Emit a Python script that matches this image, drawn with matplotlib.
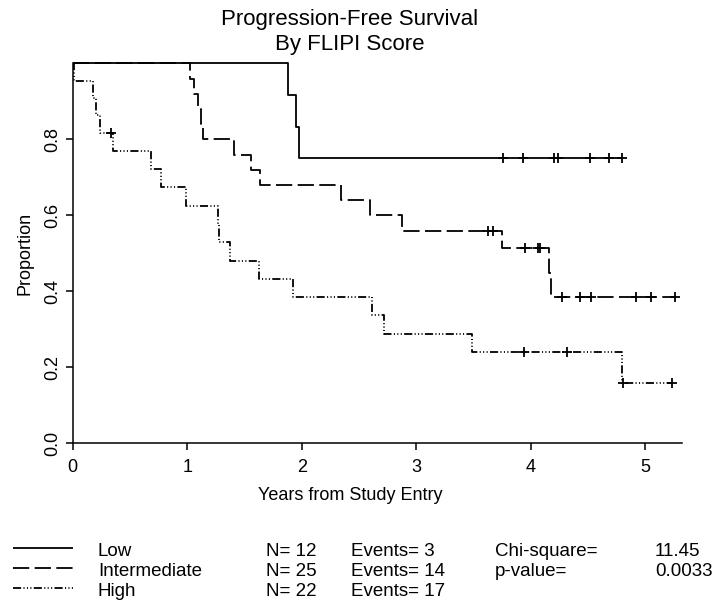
import matplotlib.pyplot as plt
from matplotlib.lines import Line2D

plt.rcParams['font.family'] = ['Liberation Sans', 'DejaVu Sans']

# Kaplan-Meier steps (years, proportion)
low_times = [0, 1.876, 1.949, 1.977]
low_surv = [1.0, 0.917, 0.833, 0.75]
low_end = 4.80
low_censor = [3.76, 3.93, 4.205, 4.24, 4.52, 4.68, 4.80]

mid_times = [0, 1.02, 1.06, 1.09, 1.12, 1.14, 1.41, 1.56, 1.635, 2.34, 2.60, 2.88, 3.75, 4.16, 4.18]
mid_surv = [1.0, 0.96, 0.92, 0.88, 0.84, 0.80, 0.76, 0.72, 0.68, 0.64, 0.60, 0.56, 0.513, 0.449, 0.385]
mid_end = 5.26
mid_censor = [3.63, 3.67, 3.95, 4.06, 4.08, 4.27, 4.43, 4.53, 4.92, 5.05, 5.26]

high_times = [0, 0.01, 0.18, 0.20, 0.24, 0.35, 0.68, 0.77, 0.99, 1.265, 1.275, 1.376,
              1.63, 1.925, 2.617, 2.72, 3.49, 4.80]
high_surv = [1.0, 0.955, 0.909, 0.864, 0.818, 0.770, 0.722, 0.674, 0.626, 0.578, 0.530, 0.481,
             0.433, 0.385, 0.337, 0.289, 0.241, 0.160]
high_end = 5.23
high_censor = [0.33, 3.94, 4.32, 4.81, 5.23]

groups = ["Low", "Intermediate", "High"]
n_values = [12, 25, 22]
events = [3, 14, 17]
chi_square = "11.45"
p_value = "0.0033"

lw = 1.3
styles = {
    "Low": (0, ()),
    "Intermediate": (0, (9.0, 3.0)),
    "High": (0, (4.5, 1.3, 0.6, 1.3, 0.6, 1.3, 0.6, 1.3)),
}

fig = plt.figure(figsize=(7.2, 6.07), dpi=100)
ax = fig.add_axes([0.101, 0.2697, 0.846, 0.6257])


def surv_at(t, times, surv):
    s = surv[0]
    for ti, si in zip(times, surv):
        if ti <= t:
            s = si
    return s


curves = [
    ("Low", low_times, low_surv, low_end, low_censor),
    ("Intermediate", mid_times, mid_surv, mid_end, mid_censor),
    ("High", high_times, high_surv, high_end, high_censor),
]

for name, times, surv, end, cens in curves:
    xs = times + [end]
    ys = surv + [surv[-1]]
    ax.step(xs, ys, where='post', color='black', lw=lw, linestyle=styles[name],
            clip_on=False)
    cy = [surv_at(c, times, surv) for c in cens]
    ax.plot(cens, cy, linestyle='none', marker='+', markersize=7, mew=1.3,
            color='black', clip_on=False)

ax.set_xlim(0, 5.32)
ax.set_ylim(0, 1.0)
ax.spines['top'].set_visible(False)
ax.spines['right'].set_visible(False)
ax.spines['left'].set_linewidth(1.1)
ax.spines['bottom'].set_linewidth(1.1)
ax.set_xticks([0, 1, 2, 3, 4, 5])
ax.set_yticks([0.0, 0.2, 0.4, 0.6, 0.8])
ax.set_yticklabels(["0.0", "0.2", "0.4", "0.6", "0.8"], rotation=90, va='center')
ax.tick_params(axis='both', direction='out', length=5, width=1.1, labelsize=13)
ax.tick_params(axis='x', pad=6)
ax.tick_params(axis='y', pad=3)

ax.set_ylabel("Proportion", fontsize=13, labelpad=8)
fig.text(350 / 720, 1 - 495 / 607, "Years from Study Entry", ha='center', va='center', fontsize=13)
fig.text(350 / 720, 1 - 32 / 607, "Progression-Free Survival\nBy FLIPI Score",
         ha='center', va='center', fontsize=16, linespacing=1.3)

# legend block under the plot
fs = 13.5
row_y = [552, 572, 592]
for i, name in enumerate(groups):
    y = 1 - row_y[i] / 607
    yl = 1 - (row_y[i] - 4) / 607
    fig.add_artist(Line2D([13 / 720, 73 / 720], [yl, yl], color='black', lw=lw,
                          linestyle=styles[name], transform=fig.transFigure))
    fig.text(98 / 720, y, name, va='center', fontsize=fs)
    fig.text(266 / 720, y, f"N= {n_values[i]}", va='center', fontsize=fs)
    fig.text(351 / 720, y, f"Events= {events[i]}", va='center', fontsize=fs)

fig.text(495 / 720, 1 - row_y[0] / 607, "Chi-square=", va='center', fontsize=fs)
fig.text(655 / 720, 1 - row_y[0] / 607, chi_square, va='center', fontsize=fs)
fig.text(495 / 720, 1 - row_y[1] / 607, "p-value=", va='center', fontsize=fs)
fig.text(655 / 720, 1 - row_y[1] / 607, p_value, va='center', fontsize=fs)

fig.savefig("out.png", dpi=100)
